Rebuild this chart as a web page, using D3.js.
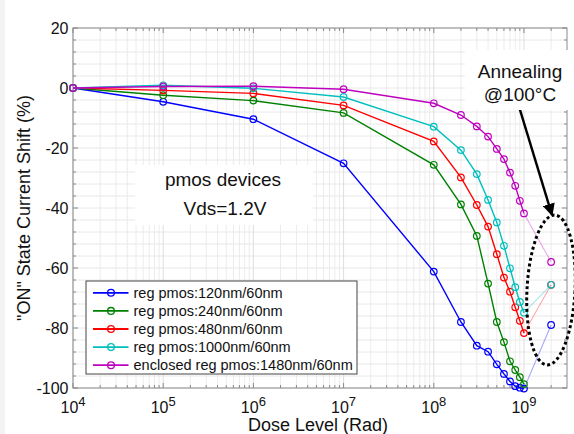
<!DOCTYPE html>
<html><head><meta charset="utf-8">
<script src="https://cdn.jsdelivr.net/npm/d3@7/dist/d3.min.js"></script>
<style>
html,body{margin:0;padding:0;background:#fff;}
svg{display:block;font-family:"Liberation Sans",Arial,Helvetica,sans-serif;}
</style></head>
<body>
<svg id="chart" width="574" height="434"></svg>
<script>
// ---- data ----
const doses = [1e4,1e5,1e6,1e7,1e8,2e8,3e8,4e8,5e8,6e8,7e8,8e8,9e8,1e9];
const seriesNames = ["reg pmos:120nm/60nm","reg pmos:240nm/60nm","reg pmos:480nm/60nm","reg pmos:1000nm/60nm","enclosed reg pmos:1480nm/60nm"];
const seriesColors = ["#0000ff","#008000","#ff0000","#00bfbf","#bf00bf"];
const pmos120  = [0,-4.6,-10.4,-25.1,-61.2,-78.0,-85.9,-87.9,-92.1,-95.3,-97.8,-99.4,-99.9,-100.2];
const pmos240  = [0,-2.4,-4.2,-8.3,-25.6,-38.8,-49.3,-65.2,-78.0,-84.7,-91.1,-94.0,-96.4,-98.7];
const pmos480  = [0,-0.8,-1.8,-5.8,-17.8,-29.8,-39.0,-46.2,-55.4,-63.2,-67.9,-73.1,-77.6,-81.7];
const pmos1000 = [0,0.9,-0.1,-3.0,-12.9,-20.7,-28.7,-37.3,-44.8,-52.6,-60.1,-66.4,-71.3,-74.9];
const pmos1480 = [0,0.5,0.6,-0.4,-5.1,-9.0,-12.8,-16.2,-20.3,-23.7,-28.2,-32.6,-37.6,-41.8];
const seriesValues = [pmos120,pmos240,pmos480,pmos1000,pmos1480];
// annealing @100C points (dose 2e9), series index -> value
const annealDose = 2e9;
const annealSeries = [0,2,3,4];
const annealValues = [-79.0,-65.6,-65.6,-58.0];
const xTickExps = [4,5,6,7,8,9];
const yTicks = [-100,-80,-60,-40,-20,0,20];

// ---- layout ----
const svg = d3.select("#chart");
const L=73, R=567, T=28, B=388;
const x = d3.scaleLog().domain([1e4,3e9]).range([L,R]);
const y = d3.scaleLinear().domain([-100,20]).range([B,T]);

// slide edge strip
svg.append("rect").attr("x",0).attr("y",0).attr("width",5).attr("height",434).attr("fill","#f3f3f3");

// grid
const minorX = [];
for (let e=4;e<=9;e++) for (let k=2;k<=9;k++){ const v=k*Math.pow(10,e); if (v<3e9) minorX.push(v); }
const gridG = svg.append("g");
gridG.selectAll(".gxm").data(minorX).enter().append("line")
  .attr("x1",d=>x(d)).attr("x2",d=>x(d)).attr("y1",T).attr("y2",B)
  .attr("stroke","#ececec").attr("stroke-width",1);
const minorY = d3.range(-100,21,4);
gridG.selectAll(".gy").data(minorY).enter().append("line")
  .attr("x1",L).attr("x2",R).attr("y1",d=>y(d)).attr("y2",d=>y(d))
  .attr("stroke","#e8e8e8").attr("stroke-width",1);
gridG.selectAll(".gx").data(xTickExps).enter().append("line")
  .attr("x1",d=>x(Math.pow(10,d))).attr("x2",d=>x(Math.pow(10,d))).attr("y1",T).attr("y2",B)
  .attr("stroke","#dedede").attr("stroke-width",1);

// ticks (inside) on all four sides
const tickG = svg.append("g").attr("stroke","#888").attr("stroke-width",1);
xTickExps.forEach(e=>{ const px=x(Math.pow(10,e));
  tickG.append("line").attr("x1",px).attr("x2",px).attr("y1",B).attr("y2",B-5);
  tickG.append("line").attr("x1",px).attr("x2",px).attr("y1",T).attr("y2",T+5); });
minorX.forEach(v=>{ const px=x(v);
  tickG.append("line").attr("x1",px).attr("x2",px).attr("y1",B).attr("y2",B-3);
  tickG.append("line").attr("x1",px).attr("x2",px).attr("y1",T).attr("y2",T+3); });
minorY.forEach(v=>{ const py=y(v); const major = (v%20===0); const len = major?5:3;
  tickG.append("line").attr("x1",L).attr("x2",L+len).attr("y1",py).attr("y2",py);
  tickG.append("line").attr("x1",R).attr("x2",R-len).attr("y1",py).attr("y2",py); });

// axes box
svg.append("rect").attr("x",L).attr("y",T).attr("width",R-L).attr("height",B-T)
  .attr("fill","none").attr("stroke","#8a8a8a").attr("stroke-width",1);

// tick labels
svg.append("g").selectAll("text").data(yTicks).enter().append("text")
  .attr("x",L-4.5).attr("y",d=>y(d)+5.8).attr("text-anchor","end")
  .attr("font-size","16px").attr("fill","#111").text(d=>d);
const xl = svg.append("g").selectAll("text").data(xTickExps).enter().append("text")
  .attr("x",d=>x(Math.pow(10,d))).attr("y",413).attr("text-anchor","middle")
  .attr("font-size","16px").attr("fill","#111");
xl.append("tspan").text("10");
xl.append("tspan").attr("dy",-7).attr("font-size","13px").text(d=>d);

// axis titles
svg.append("text").attr("x",318).attr("y",431).attr("text-anchor","middle")
  .attr("font-size","18px").attr("fill","#111").text("Dose Level (Rad)");
svg.append("text").attr("transform","translate(30,208) rotate(-90)").attr("text-anchor","middle")
  .attr("font-size","18px").attr("fill","#111").text('"ON" State Current Shift (%)');

// annealing connectors (faded)
annealSeries.forEach((si,i)=>{
  const last = seriesValues[si][doses.length-1];
  svg.append("line").attr("x1",x(doses[doses.length-1])).attr("y1",y(last))
    .attr("x2",x(annealDose)).attr("y2",y(annealValues[i]))
    .attr("stroke",seriesColors[si]).attr("stroke-opacity",0.35).attr("stroke-width",1.1);
});

// data series
const line = d3.line().x(d=>x(d[0])).y(d=>y(d[1]));
seriesValues.forEach((vals,si)=>{
  const pts = doses.map((d,i)=>[d,vals[i]]);
  const g = svg.append("g");
  g.append("path").attr("d",line(pts)).attr("fill","none")
    .attr("stroke",seriesColors[si]).attr("stroke-width",1.4);
  g.selectAll("circle").data(pts).enter().append("circle")
    .attr("cx",d=>x(d[0])).attr("cy",d=>y(d[1])).attr("r",3.3)
    .attr("fill","none").attr("stroke",seriesColors[si]).attr("stroke-width",1.2);
});
annealSeries.forEach((si,i)=>{
  svg.append("circle").attr("cx",x(annealDose)).attr("cy",y(annealValues[i])).attr("r",3.3)
    .attr("fill","none").attr("stroke",seriesColors[si]).attr("stroke-width",1.2);
});

// dotted ellipse
svg.append("ellipse").attr("cx",551).attr("cy",290).attr("rx",24).attr("ry",75)
  .attr("transform","rotate(3,551,290)")
  .attr("fill","none").attr("stroke","#000").attr("stroke-width",3).attr("stroke-dasharray","3 2.7");

// arrow
svg.append("defs").append("marker").attr("id","ah").attr("viewBox","0 0 10 10")
  .attr("refX",9).attr("refY",5).attr("markerWidth",5).attr("markerHeight",5)
  .attr("orient","auto").attr("markerUnits","strokeWidth")
  .append("path").attr("d","M0,0 L10,5 L0,10 Z").attr("fill","#000");
svg.append("line").attr("x1",517).attr("y1",100).attr("x2",552).attr("y2",215)
  .attr("stroke","#000").attr("stroke-width",2.5).attr("marker-end","url(#ah)");

// annotation boxes
svg.append("rect").attr("x",465).attr("y",50).attr("width",110).attr("height",60).attr("fill","#fff");
svg.append("text").attr("x",520).attr("y",77.5).attr("text-anchor","middle").attr("font-size","19px").attr("fill","#111").text("Annealing");
svg.append("text").attr("x",520).attr("y",100.5).attr("text-anchor","middle").attr("font-size","19px").attr("fill","#111").text("@100°C");

svg.append("rect").attr("x",135).attr("y",165).attr("width",178).attr("height",60).attr("fill","#fff");
svg.append("text").attr("x",223).attr("y",185.5).attr("text-anchor","middle").attr("font-size","19px").attr("fill","#111").text("pmos devices");
svg.append("text").attr("x",225).attr("y",214.5).attr("text-anchor","middle").attr("font-size","19px").attr("fill","#111").text("Vds=1.2V");

// legend
const lg = svg.append("g");
lg.append("rect").attr("x",86).attr("y",281).attr("width",271).attr("height",93)
  .attr("fill","#fff").attr("stroke","#444").attr("stroke-width",1);
seriesNames.forEach((n,i)=>{
  const yy = 292.8 + i*18.1;
  lg.append("line").attr("x1",93).attr("x2",128.5).attr("y1",yy).attr("y2",yy)
    .attr("stroke",seriesColors[i]).attr("stroke-width",1.8);
  lg.append("circle").attr("cx",111).attr("cy",yy).attr("r",3.4).attr("fill","none")
    .attr("stroke",seriesColors[i]).attr("stroke-width",1.3);
  lg.append("text").attr("x",133.5).attr("y",yy+5.2).attr("font-size","14.5px").attr("fill","#111").text(n);
});
</script>
</body></html>
